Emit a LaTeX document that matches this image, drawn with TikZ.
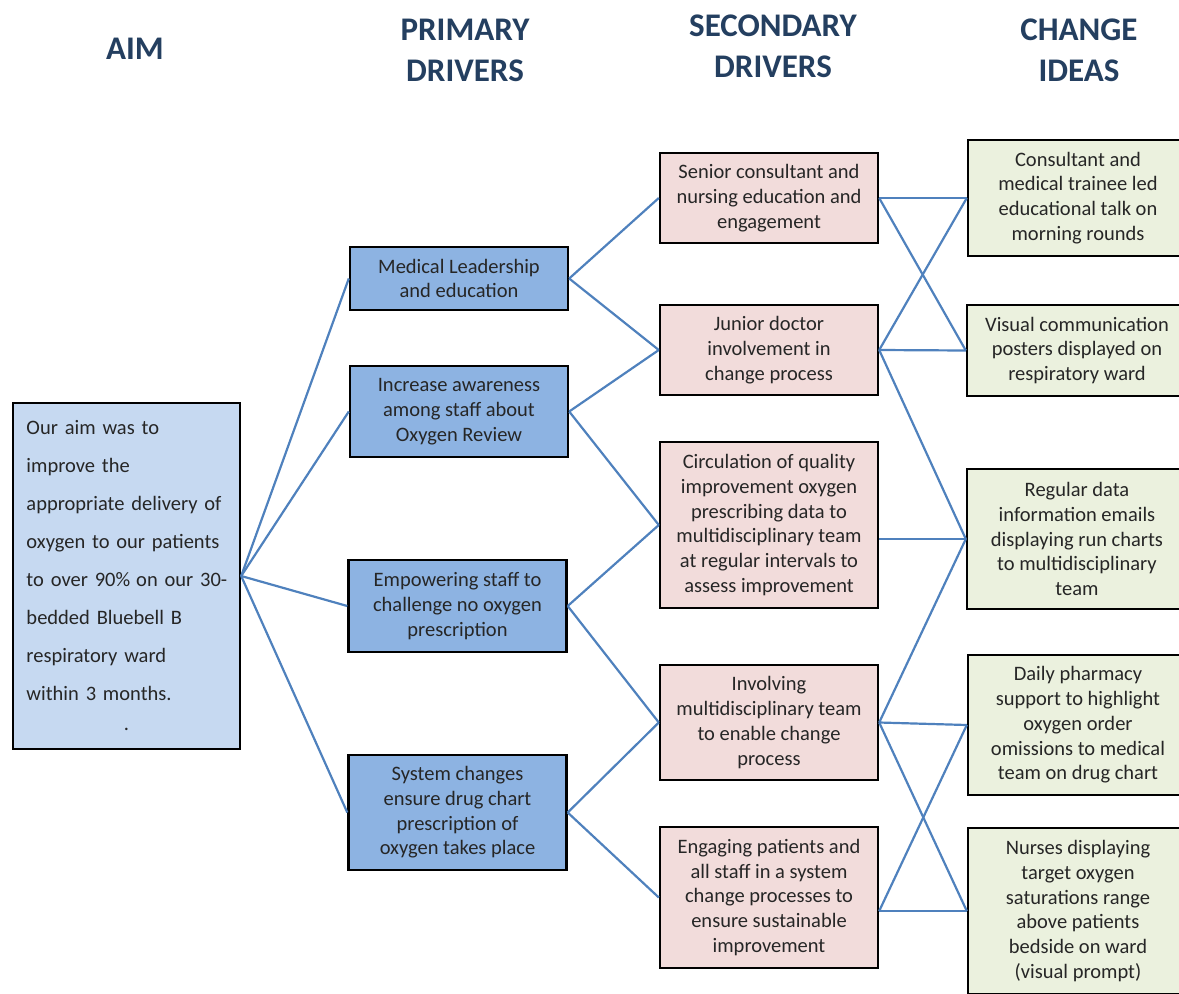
\documentclass[tikz,border=0pt]{standalone}
\usepackage{fontspec}
\setmainfont{Carlito}

\definecolor{headblue}{HTML}{243F60}
\definecolor{textgrey}{HTML}{262626}
\definecolor{linkblue}{HTML}{4F81BD}
\definecolor{aimfill}{HTML}{C6D9F1}
\definecolor{primaryfill}{HTML}{8DB3E2}
\definecolor{secondaryfill}{HTML}{F2DCDB}
\definecolor{ideafill}{HTML}{EBF1DE}

\tikzset{
	box/.style={rectangle, draw=black, line width=2.4pt, inner sep=0pt, align=center, text=textgrey, font=\fontsize{20.5}{24.75}\selectfont},
	aimbox/.style={box, fill=aimfill, align=left, text width=200pt, inner xsep=13.5pt, minimum width=227pt, minimum height=346pt, font=\fontsize{20.5}{38}\selectfont},
	primarybox/.style={box, fill=primaryfill, minimum width=218pt},
	secondarybox/.style={box, fill=secondaryfill, minimum width=218pt},
	ideabox/.style={box, fill=ideafill, minimum width=220pt},
	head/.style={align=center, text=headblue, font=\fontsize{33}{41}\selectfont\bfseries},
	link/.style={draw=linkblue, line width=2.2pt}
}

\begin{document}
\begin{tikzpicture}[x=1pt, y=-1pt]
					\useasboundingbox (0,0) rectangle (1179,994);
					\clip (0,0) rectangle (1179,994);

					% column heads
					\node[head] (aimhead) at (135,49) {AIM};
					\node[head] (primaryhead) at (465,50) {PRIMARY\\DRIVERS};
					\node[head] (secondaryhead) at (773,46) {SECONDARY\\DRIVERS};
					\node[head] (ideahead) at (1079,50) {CHANGE\\IDEAS};

					\node[aimbox] (aim) at (126.5,576) {Our aim was to\\improve the\\appropriate delivery of\\oxygen to our patients\\\mbox{to over 90\%\hspace{6pt}on our 30-}\\bedded Bluebell B\\respiratory ward\\within 3 months.\\[-8pt]\makebox[\linewidth][c]{.}};

					\node[primarybox, minimum height=63pt] (p1) at (459,278.5) {Medical Leadership\\and education};
					\node[primarybox, minimum height=91pt] (p2) at (459,411.5) {Increase awareness\\among staff about\\Oxygen Review};
					\node[primarybox, minimum height=92pt] (p3) at (457.5,606) {Empowering staff to\\challenge no oxygen\\prescription};
					\node[primarybox, minimum height=115pt] (p4) at (457.5,812.5) {System changes\\ensure drug chart\\prescription of\\oxygen takes place};

					\node[secondarybox, minimum height=90pt] (s1) at (769,198) {Senior consultant and\\nursing education and\\engagement};
					\node[secondarybox, minimum height=90pt] (s2) at (769,350) {Junior doctor\\involvement in\\change process};
					\node[secondarybox, minimum height=166pt] (s3) at (769,525) {Circulation of quality\\improvement oxygen\\prescribing data to\\multidisciplinary team\\at regular intervals to\\assess improvement};
					\node[secondarybox, minimum height=115pt] (s4) at (769,722.5) {Involving\\multidisciplinary team\\to enable change\\process};
					\node[secondarybox, minimum height=141pt] (s5) at (769,897.5) {Engaging patients and\\all staff in a system\\change processes to\\ensure sustainable\\improvement};

					\node[ideabox, minimum height=116pt] (c1) at (1078,198) {Consultant and\\medical trainee led\\educational talk on\\morning rounds};
					\node[ideabox, minimum height=91pt] (c2) at (1077,350.5) {Visual communication\\posters displayed on\\respiratory ward};
					\node[ideabox, minimum height=140pt] (c3) at (1077,539) {Regular data\\information emails\\displaying run charts\\to multidisciplinary\\team};
					\node[ideabox, minimum height=140pt] (c4) at (1078,725) {Daily pharmacy\\support to highlight\\oxygen order\\omissions to medical\\team on drug chart};
					\node[ideabox, minimum height=166pt] (c5) at (1078,911) {Nurses displaying\\target oxygen\\saturations range\\above patients\\bedside on ward\\(visual prompt)};

					\path[link]
						(aim.east) edge (p1.west)
						(aim.east) edge (p2.west)
						(aim.east) edge (p3.west)
						(aim.east) edge (p4.west)
						(p1.east) edge (s1.west)
						(p1.east) edge (s2.west)
						(p2.east) edge (s2.west)
						(p2.east) edge (s3.west)
						(p3.east) edge (s3.west)
						(p3.east) edge (s4.west)
						(p4.east) edge (s4.west)
						(p4.east) edge (s5.west)
						(s1.east) edge (c1.west)
						(s1.east) edge (c2.west)
						(s2.east) edge (c1.west)
						(s2.east) edge (c2.west)
						(s2.east) edge (c3.west)
						(s3.east |- c3.west) edge (c3.west)
						(s4.east) edge (c3.west)
						(s4.east) edge (c4.west)
						(s4.east) edge (c5.west)
						(s5.east |- c5.west) edge (c4.west)
						(s5.east |- c5.west) edge (c5.west)
					;
				\end{tikzpicture}
\end{document}
